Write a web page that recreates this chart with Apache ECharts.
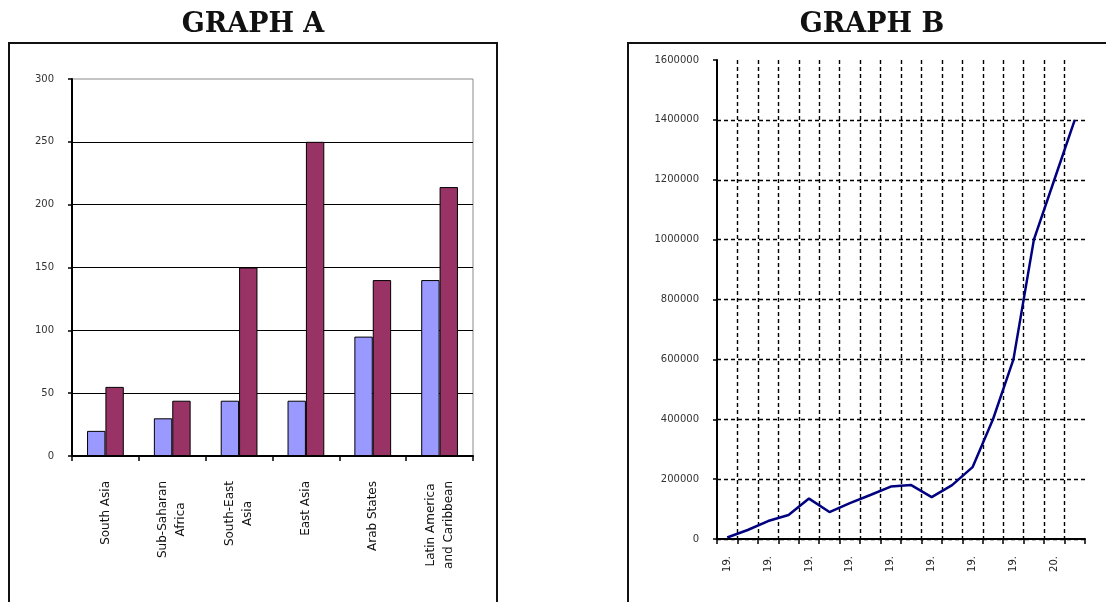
<!DOCTYPE html>
<html><head><meta charset="utf-8">
<script src="https://cdn.jsdelivr.net/npm/echarts@6/dist/echarts.min.js"></script>
<style>html,body{margin:0;padding:0;background:#fff}#c{width:1106px;height:602px}</style>
</head><body><div id="c"></div>
<script>
// ---- Graph A data ----
const regions = ['South Asia', 'Sub-Saharan\nAfrica', 'South-East\nAsia', 'East Asia', 'Arab States', 'Latin America\nand Caribbean'];
const seriesA1 = [20, 30, 44, 44, 95, 140];
const seriesA2 = [55, 44, 150, 250, 140, 214];
const yRangeA = { min: 0, max: 300, interval: 50 };

// ---- Graph B data ----
const periodsB = ['19.', '19.', '19.', '19.', '19.', '19.', '19.', '19.', '19.', '19.', '19.', '19.', '19.', '19.', '19.', '19.', '20.', '20.'];
const valuesB = [5000, 30000, 60000, 80000, 135000, 90000, 120000, 147000, 175000, 180000, 140000, 180000, 240000, 400000, 600000, 1000000, 1200000, 1400000];
const yRangeB = { min: 0, max: 1600000, interval: 200000 };

const chart = echarts.init(document.getElementById('c'), null, { renderer: 'canvas' });
const lblFont = 'DejaVu Sans';

const option = {
  animation: false,
  backgroundColor: '#fff',
  title: [
    { text: 'GRAPH A', left: 253, top: 11, textAlign: 'center', padding: 0,
      textStyle: { fontFamily: 'DejaVu Serif', fontWeight: 'bold', fontSize: 27, color: '#111' } },
    { text: 'GRAPH B', left: 872, top: 11, textAlign: 'center', padding: 0,
      textStyle: { fontFamily: 'DejaVu Serif', fontWeight: 'bold', fontSize: 27, color: '#111' } }
  ],
  graphic: [
    { type: 'rect', shape: { x: 9, y: 43, width: 488, height: 620 }, style: { fill: 'none', stroke: '#111', lineWidth: 2 }, z: 0 },
    { type: 'rect', shape: { x: 628, y: 43, width: 520, height: 620 }, style: { fill: 'none', stroke: '#111', lineWidth: 2 }, z: 0 }
  ],
  grid: [
    { left: 72, top: 79, width: 401, height: 377, show: true, borderColor: '#8a8a8a', borderWidth: 1, backgroundColor: 'transparent' },
    { left: 717, top: 60, width: 368, height: 479 }
  ],
  xAxis: [
    { type: 'category', gridIndex: 0, data: regions, boundaryGap: true,
      axisLine: { lineStyle: { color: '#000', width: 2 } },
      axisTick: { show: true, length: 5, interval: 0, lineStyle: { color: '#000', width: 1.5 } },
      axisLabel: { rotate: 90, margin: 25, interval: 0,
        formatter: v => v.split('\n').map(s => '{c|' + s + '}').join('\n'),
        rich: { c: { align: 'center', fontFamily: 'DejaVu Sans', fontSize: 12, lineHeight: 18, color: '#111' } } },
      splitLine: { show: false } },
    { type: 'category', gridIndex: 1, data: periodsB, boundaryGap: true,
      axisLine: { lineStyle: { color: '#000', width: 2 } },
      axisTick: { show: true, length: 5, interval: 0, lineStyle: { color: '#000', width: 1.5 } },
      axisLabel: { rotate: 90, margin: 17, interval: 1, fontFamily: 'DejaVu Sans', fontSize: 10, color: '#222' },
      splitLine: { show: true, interval: 0, showMinLine: false, showMaxLine: false, lineStyle: { color: '#000', width: 1.4, type: [4, 3] } } }
  ],
  yAxis: [
    { type: 'value', gridIndex: 0, min: yRangeA.min, max: yRangeA.max, interval: yRangeA.interval,
      axisLine: { show: true, lineStyle: { color: '#000', width: 2 } },
      axisTick: { show: true, length: 4, lineStyle: { color: '#000', width: 1.5 } },
      axisLabel: { margin: 18, fontFamily: lblFont, fontSize: 10, color: '#333' },
      splitLine: { show: true, showMaxLine: false, lineStyle: { color: '#000', width: 1.2 } } },
    { type: 'value', gridIndex: 1, min: yRangeB.min, max: yRangeB.max, interval: yRangeB.interval,
      axisLine: { show: true, lineStyle: { color: '#000', width: 2 } },
      axisTick: { show: true, length: 4, lineStyle: { color: '#000', width: 1.5 } },
      axisLabel: { margin: 18, fontFamily: lblFont, fontSize: 10, color: '#333', formatter: v => String(v) },
      splitLine: { show: true, showMaxLine: false, lineStyle: { color: '#000', width: 1.4, type: [4, 3] } } }
  ],
  series: [
    { name: 'Series 1', type: 'bar', xAxisIndex: 0, yAxisIndex: 0, data: seriesA1,
      barGap: '0%', barCategoryGap: '45%',
      itemStyle: { color: '#9999FF', borderColor: '#000', borderWidth: 1 } },
    { name: 'Series 2', type: 'bar', xAxisIndex: 0, yAxisIndex: 0, data: seriesA2,
      barGap: '0%', barCategoryGap: '45%',
      itemStyle: { color: '#993366', borderColor: '#000', borderWidth: 1 } },
    { name: 'Graph B', type: 'line', xAxisIndex: 1, yAxisIndex: 1, data: valuesB,
      showSymbol: false, symbol: 'none',
      lineStyle: { color: '#000080', width: 2.5 } }
  ]
};
chart.setOption(option);
</script>
</body></html>
